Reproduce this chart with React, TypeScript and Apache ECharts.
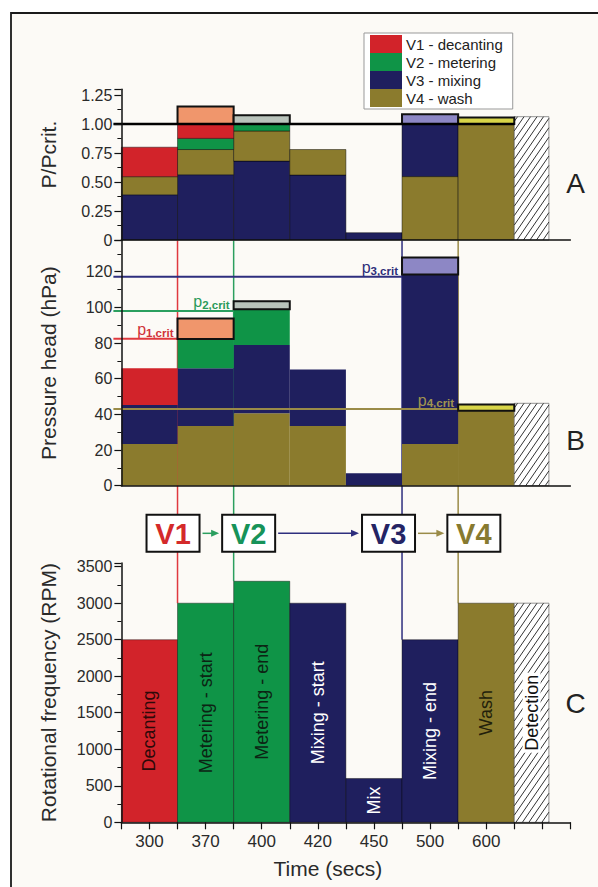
import React, { useEffect, useRef } from 'react';
import * as echarts from 'echarts';

// ---------------- data ----------------
const categories = ['300', '370', '400', '420', '450', '500', '600'];
const legendNames = ['V1 - decanting', 'V2 - metering', 'V3 - mixing', 'V4 - wash'];
const valveLabels = ['V1', 'V2', 'V3', 'V4'];

// Panel A: P/Pcrit, stacked segments [low, high] per time step
const ratioV1 = [[0.546, 0.8], [0.876, 1.0], null, null, null, null, null];
const ratioV2 = [null, [0.78, 0.876], [0.94, 1.0], null, null, null, null];
const ratioV3 = [[0, 0.39], [0, 0.563], [0, 0.68], [0, 0.56], [0, 0.063], [0.546, 1.0], null];
const ratioV4 = [[0.39, 0.546], [0.563, 0.78], [0.68, 0.94], [0.56, 0.78], null, [0, 0.546], [0, 1.0]];
const ratioExcess = [null, [1.0, 1.15], [1.0, 1.075], null, null, [1.0, 1.085], [1.0, 1.055]];
const ratioDetection = 1.063;
const ratioCrit = 1.0;

// Panel B: pressure head (hPa)
const headV1 = [[45.2, 65.8], null, null, null, null, null, null];
const headV2 = [null, [65.8, 82.2], [78.9, 98.9], null, null, null, null];
const headV3 = [[23.4, 45.2], [33.5, 65.8], [40.6, 78.9], [33.5, 65.2], [0, 7], [23.4, 118.5], null];
const headV4 = [[0, 23.4], [0, 33.5], [0, 40.6], [0, 33.5], null, [0, 23.4], [0, 42]];
const headExcess = [null, [82.2, 93.8], [98.9, 103.5], null, null, [118.5, 128], [42, 45.6]];
const headDetection = 46.2;
const critHead = [82.4, 98.0, 117.2, 43.0];

// which valve the excess box of each time step belongs to
const excessValve = [null, 0, 1, null, null, 2, 3];

// Panel C: rotational frequency (RPM)
const rpm = [2500, 3000, 3300, 3000, 600, 2500, 3000];
const rpmDetection = 3000;
const phaseLabels = ['Decanting', 'Metering - start', 'Metering - end', 'Mixing - start', 'Mix', 'Mixing - end', 'Wash'];
const phaseValve = [0, 1, 1, 2, 2, 2, 3];
const detectionLabel = 'Detection';

// time-step boundary at which each valve bursts
const valveBurstStep = [1, 2, 5, 6];

// ---------------- styles / layout ----------------
const FONT = 'Liberation Sans, Arial, Helvetica, sans-serif';
const valveColors = ['#d2232a', '#0f9447', '#1f1f5e', '#8b7b2d'];
const excessColors = ['#f0966c', '#b9c3bb', '#8d87c5', '#d8d548'];
const lineColors = ['#e0393e', '#2b9f5f', '#2e2e7e', '#9a8b48'];
const valveTextColors = ['#d42a2a', '#17935a', '#252565', '#877a30'];
const critLabelColors = ['#d0343a', '#2a9a5a', '#2e2e7a', '#a09450'];
const phaseTextColors = ['#2e0909', '#0c2414', '#ffffff', '#221f0b'];
const DET_W = 0.617; // detection bar width in time steps
const BOX_Y = 0.384; // valve boxes vertical position in the middle strip
const boxOffsetPx = [-4.5, 15, -13.5, 15.7];
const BOX_W = 53;
const BOX_H = 37;

const GL = 121.4;
const GR = 27.6;

function rectOf(api: any, x0: number, x1: number, lo: number, hi: number) {
  const a = api.coord([x0, lo]);
  const b = api.coord([x1, hi]);
  return { x: a[0], y: b[1], width: b[0] - a[0], height: a[1] - b[1] };
}

function hatchLines(r: any, step: number, slope: number, color: string) {
  const out: any[] = [];
  const { x, y, width: w, height: h } = r;
  const cMin = y + slope * x;
  const cMax = y + h + slope * (x + w);
  for (let c = cMin + slope * step * 0.5; c < cMax; c += slope * step) {
    const xa = Math.max(x, (c - (y + h)) / slope);
    const xb = Math.min(x + w, (c - y) / slope);
    if (xb <= xa) continue;
    out.push({
      type: 'line',
      shape: { x1: xa, y1: c - slope * xa, x2: xb, y2: c - slope * xb },
      style: { stroke: color, lineWidth: 1 },
    });
  }
  return out;
}

function toItems(ranges: any[]) {
  const out: any[] = [];
  ranges.forEach((r, i) => {
    if (r) out.push([i, i + 1, r[0], r[1]]);
  });
  return out;
}

function segSeries(name: string, ranges: any[], gi: number, color: string, stroke: string | null) {
  return {
    type: 'custom',
    name,
    xAxisIndex: gi,
    yAxisIndex: gi,
    silent: true,
    z: 3,
    itemStyle: { color },
    encode: { x: [0, 1], y: [2, 3] },
    data: toItems(ranges),
    renderItem: (_p: any, api: any) => ({
      type: 'rect',
      shape: rectOf(api, api.value(0), api.value(1), api.value(2), api.value(3)),
      style: { fill: color, stroke: stroke || undefined, lineWidth: stroke ? 1 : 0 },
    }),
  };
}

function excessSeries(ranges: any[], gi: number) {
  const data: any[] = [];
  ranges.forEach((r, i) => {
    if (r) data.push([i, i + 1, r[0], r[1], excessValve[i]]);
  });
  return {
    type: 'custom',
    xAxisIndex: gi,
    yAxisIndex: gi,
    silent: true,
    z: 6,
    encode: { x: [0, 1], y: [2, 3] },
    data,
    renderItem: (_p: any, api: any) => ({
      type: 'rect',
      shape: rectOf(api, api.value(0), api.value(1), api.value(2), api.value(3)),
      style: { fill: excessColors[api.value(4)], stroke: '#111', lineWidth: 2 },
    }),
  };
}

function detectionSeries(value: number, gi: number, label: string | null) {
  const start = categories.length;
  return {
    type: 'custom',
    xAxisIndex: gi,
    yAxisIndex: gi,
    silent: true,
    z: 3,
    encode: { x: [0, 1], y: [2, 3] },
    data: [[start, start + DET_W, 0, value]],
    renderItem: (_p: any, api: any) => {
      const r = rectOf(api, api.value(0), api.value(1), api.value(2), api.value(3));
      const children: any[] = [
        { type: 'rect', shape: r, style: { fill: '#ffffff', stroke: '#777', lineWidth: 0.8 } },
        ...hatchLines(r, 6.5, 1.45, '#333'),
      ];
      if (label) {
        children.push({
          type: 'text',
          x: r.x + r.width / 2,
          y: r.y + r.height / 2,
          rotation: Math.PI / 2,
          style: {
            text: label,
            fill: '#111',
            fontSize: 18,
            fontFamily: FONT,
            align: 'center',
            verticalAlign: 'middle',
            backgroundColor: '#ffffff',
            padding: [0, 2, 0, 2],
          },
        });
      }
      return { type: 'group', children };
    },
  };
}

function buildOption() {
  const axisLineStyle = { color: '#111', width: 1.5 };
  const yCommon = {
    axisLine: { show: true, lineStyle: axisLineStyle },
    axisTick: { show: true, length: 7, lineStyle: { color: '#111', width: 1.2 } },
    minorTick: { show: true, splitNumber: 2, length: 4, lineStyle: { color: '#111', width: 1 } },
    splitLine: { show: false },
    nameLocation: 'middle',
    nameGap: 62,
    z: 8,
  };
  const yLabel = {
    fontSize: 16,
    color: '#2a2a2a',
    margin: 9,
    fontFamily: FONT,
    showMaxLabel: false,
    formatter: (v: number) => String(v),
  };

  const series: any[] = [];

  // ----- Panel A -----
  const aStroke = 'rgba(0,0,0,0.45)';
  series.push(segSeries(legendNames[2], ratioV3, 0, valveColors[2], aStroke));
  series.push(segSeries(legendNames[3], ratioV4, 0, valveColors[3], aStroke));
  series.push(segSeries(legendNames[1], ratioV2, 0, valveColors[1], aStroke));
  series.push(segSeries(legendNames[0], ratioV1, 0, valveColors[0], aStroke));
  series.push(excessSeries(ratioExcess, 0));
  series.push(detectionSeries(ratioDetection, 0, null));
  series.push({
    type: 'custom',
    xAxisIndex: 0,
    yAxisIndex: 0,
    silent: true,
    z: 7,
    encode: { x: [0, 1], y: 2 },
    data: [[0, categories.length, ratioCrit]],
    renderItem: (_p: any, api: any) => {
      const a = api.coord([api.value(0), api.value(2)]);
      const b = api.coord([api.value(1), api.value(2)]);
      return {
        type: 'line',
        shape: { x1: a[0] - 8, y1: a[1], x2: b[0], y2: b[1] },
        style: { stroke: '#000', lineWidth: 2.5 },
      };
    },
  });

  // ----- Panel B -----
  // vertical valve lines (behind bars)
  series.push({
    type: 'custom',
    xAxisIndex: 1,
    yAxisIndex: 1,
    silent: true,
    z: 1,
    encode: { x: 0 },
    data: valveBurstStep.map((s, k) => [s, k]),
    renderItem: (_p: any, api: any) => {
      const k = api.value(1);
      const top = api.coord([api.value(0), 137.5]);
      const bot = api.coord([api.value(0), 0]);
      return {
        type: 'line',
        shape: { x1: top[0], y1: top[1], x2: bot[0], y2: bot[1] },
        style: { stroke: lineColors[k], lineWidth: 1.5 },
      };
    },
  });
  series.push(segSeries(legendNames[3], headV4, 1, valveColors[3], null));
  series.push(segSeries(legendNames[2], headV3, 1, valveColors[2], null));
  series.push(segSeries(legendNames[1], headV2, 1, valveColors[1], null));
  series.push(segSeries(legendNames[0], headV1, 1, valveColors[0], null));
  series.push(detectionSeries(headDetection, 1, null));
  // critical pressure lines + labels
  series.push({
    type: 'custom',
    xAxisIndex: 1,
    yAxisIndex: 1,
    silent: true,
    z: 5,
    encode: { x: 0, y: 1 },
    data: critHead.map((v, k) => [valveBurstStep[k], v, k]),
    renderItem: (_p: any, api: any) => {
      const k = api.value(2);
      const a = api.coord([0, api.value(1)]);
      const b = api.coord([api.value(0), api.value(1)]);
      const c = critLabelColors[k];
      return {
        type: 'group',
        children: [
          {
            type: 'line',
            shape: { x1: a[0] - 8, y1: a[1], x2: b[0], y2: b[1] },
            style: { stroke: lineColors[k], lineWidth: 2 },
          },
          {
            type: 'text',
            x: b[0] - 4,
            y: b[1] - 2,
            style: {
              text: `{p|p}{s|${k + 1},crit}`,
              align: 'right',
              verticalAlign: 'bottom',
              fontFamily: FONT,
              rich: {
                p: { fontSize: 16, fill: c, fontFamily: FONT, lineHeight: 15, verticalAlign: 'top' },
                s: { fontSize: 11.5, fontWeight: 'bold', fill: c, fontFamily: FONT, lineHeight: 11, padding: [5, 0, 0, 0], verticalAlign: 'top' },
              },
            },
          },
        ],
      };
    },
  });
  series.push(excessSeries(headExcess, 1));

  // ----- middle strip: valve boxes -----
  series.push({
    type: 'custom',
    xAxisIndex: 2,
    yAxisIndex: 2,
    silent: true,
    z: 3,
    encode: { x: 0 },
    data: valveBurstStep.map((s, k) => [s, k]),
    renderItem: (_p: any, api: any) => {
      const k = api.value(1);
      const top = api.coord([api.value(0), 1]);
      const bot = api.coord([api.value(0), 0]);
      const mid = api.coord([api.value(0), BOX_Y]);
      const cx = mid[0] + boxOffsetPx[k];
      const children: any[] = [
        {
          type: 'line',
          shape: { x1: top[0], y1: top[1], x2: bot[0], y2: bot[1] },
          style: { stroke: lineColors[k], lineWidth: 1.5 },
          z2: 0,
        },
        {
          type: 'rect',
          shape: { x: cx - BOX_W / 2, y: mid[1] - BOX_H / 2, width: BOX_W, height: BOX_H },
          style: { fill: '#ffffff', stroke: '#111', lineWidth: 2 },
          z2: 2,
        },
        {
          type: 'text',
          x: cx,
          y: mid[1] + 1,
          style: {
            text: valveLabels[k],
            fill: valveTextColors[k],
            fontSize: 29,
            fontWeight: 'bold',
            fontFamily: FONT,
            align: 'center',
            verticalAlign: 'middle',
          },
          z2: 3,
        },
      ];
      if (k > 0) {
        const prev = api.coord([valveBurstStep[k - 1], BOX_Y]);
        const px = prev[0] + boxOffsetPx[k - 1] + BOX_W / 2 + 3;
        const qx = cx - BOX_W / 2 - 3;
        const y = mid[1];
        const col = lineColors[k];
        children.push({
          type: 'line',
          shape: { x1: px, y1: y, x2: qx - 6, y2: y },
          style: { stroke: col, lineWidth: 1.5 },
          z2: 2,
        });
        children.push({
          type: 'polygon',
          shape: { points: [[qx, y], [qx - 8, y - 3.5], [qx - 8, y + 3.5]] },
          style: { fill: col },
          z2: 2,
        });
      }
      return { type: 'group', children };
    },
  });

  // ----- Panel C -----
  series.push({
    type: 'custom',
    xAxisIndex: 3,
    yAxisIndex: 3,
    silent: true,
    z: 2,
    encode: { x: 0, y: 1 },
    data: valveBurstStep.map((s, k) => [s, rpm[s], k]),
    renderItem: (_p: any, api: any) => {
      const k = api.value(2);
      const top = api.coord([api.value(0), 3550]);
      const bot = api.coord([api.value(0), api.value(1)]);
      return {
        type: 'line',
        shape: { x1: top[0], y1: top[1], x2: bot[0], y2: bot[1] },
        style: { stroke: lineColors[k], lineWidth: 1.5 },
      };
    },
  });
  series.push({
    type: 'custom',
    xAxisIndex: 3,
    yAxisIndex: 3,
    silent: true,
    z: 3,
    encode: { x: [0, 1], y: [2, 3] },
    data: rpm.map((v, i) => [i, i + 1, 0, v, phaseValve[i], i]),
    renderItem: (_p: any, api: any) => {
      const r = rectOf(api, api.value(0), api.value(1), api.value(2), api.value(3));
      const v = api.value(4);
      const i = api.value(5);
      return {
        type: 'group',
        children: [
          { type: 'rect', shape: r, style: { fill: valveColors[v], stroke: 'rgba(0,0,0,0.4)', lineWidth: 1 } },
          {
            type: 'text',
            x: r.x + r.width / 2,
            y: r.y + r.height / 2,
            rotation: Math.PI / 2,
            style: {
              text: phaseLabels[i],
              fill: phaseTextColors[v],
              fontSize: 18,
              fontFamily: FONT,
              align: 'center',
              verticalAlign: 'middle',
            },
          },
        ],
      };
    },
  });
  series.push(detectionSeries(rpmDetection, 3, detectionLabel));

  return {
    animation: false,
    backgroundColor: '#ffffff',
    textStyle: { fontFamily: FONT },
    legend: {
      data: legendNames,
      orient: 'vertical',
      left: 364,
      top: 33,
      itemWidth: 32,
      itemHeight: 18,
      itemGap: 0,
      itemStyle: { borderWidth: 0 },
      icon: 'rect',
      selectedMode: false,
      padding: [2, 10, 2, 6],
      borderColor: '#999',
      borderWidth: 1,
      backgroundColor: '#ffffff',
      textStyle: { fontSize: 15, color: '#222', fontFamily: FONT, padding: [0, 0, 0, -1] },
    },
    graphic: [
      {
        type: 'rect',
        z: -100,
        silent: true,
        shape: { x: 11, y: 13, width: 620, height: 900 },
        style: { fill: '#fcfaf6', stroke: '#1a1a1a', lineWidth: 1.8 },
      },
      { type: 'text', x: 575.7, y: 183, style: { text: 'A', fontSize: 28, fill: '#222', fontFamily: FONT, align: 'center', verticalAlign: 'middle' } },
      { type: 'text', x: 575.7, y: 440, style: { text: 'B', fontSize: 28, fill: '#222', fontFamily: FONT, align: 'center', verticalAlign: 'middle' } },
      { type: 'text', x: 575.7, y: 703, style: { text: 'C', fontSize: 28, fill: '#222', fontFamily: FONT, align: 'center', verticalAlign: 'middle' } },
    ],
    grid: [
      { left: GL, right: GR, top: 89.2, height: 150.8 },
      { left: GL, right: GR, top: 240.5, height: 245.2 },
      { left: GL, right: GR, top: 485.7, height: 77.3 },
      { left: GL, right: GR, top: 563, height: 259.3 },
    ],
    xAxis: [
      { type: 'value', gridIndex: 0, min: 0, max: 8, z: 8, axisLine: { lineStyle: axisLineStyle }, axisTick: { show: false }, axisLabel: { show: false }, splitLine: { show: false } },
      { type: 'value', gridIndex: 1, min: 0, max: 8, z: 8, axisLine: { lineStyle: axisLineStyle }, axisTick: { show: false }, axisLabel: { show: false }, splitLine: { show: false } },
      { type: 'value', gridIndex: 2, min: 0, max: 8, show: false },
      {
        type: 'value',
        gridIndex: 3,
        min: 0,
        max: 8,
        interval: 0.5,
        z: 8,
        axisLine: { lineStyle: axisLineStyle },
        axisTick: { show: true, length: 7, lineStyle: { color: '#111', width: 1.2 } },
        splitLine: { show: false },
        axisLabel: {
          fontSize: 17,
          color: '#2a2a2a',
          margin: 11,
          fontFamily: FONT,
          formatter: (v: number) => {
            const i = Math.floor(v);
            if (Math.abs(v - i - 0.5) < 1e-6 && i < categories.length) return categories[i];
            return '';
          },
        },
        name: 'Time (secs)',
        nameLocation: 'middle',
        nameGap: 36,
        nameTextStyle: { fontSize: 21, color: '#2a2a2a', fontFamily: FONT, padding: [0, 36, 0, 0] },
      },
    ],
    yAxis: [
      {
        ...yCommon,
        type: 'value',
        gridIndex: 0,
        min: 0,
        max: 1.3,
        interval: 0.25,
        name: 'P/Pcrit.',
        nameTextStyle: { fontSize: 21, color: '#2a2a2a', fontFamily: FONT, padding: [0, 0, 0, 20] },
        axisLabel: { ...yLabel, formatter: (v: number) => (v === 0 ? '0' : v.toFixed(2)) },
      },
      {
        ...yCommon,
        type: 'value',
        gridIndex: 1,
        min: 0,
        max: 137.5,
        interval: 20,
        name: 'Pressure head (hPa)',
        nameTextStyle: { fontSize: 21, color: '#2a2a2a', fontFamily: FONT },
        axisLabel: yLabel,
      },
      { type: 'value', gridIndex: 2, min: 0, max: 1, show: false },
      {
        ...yCommon,
        type: 'value',
        gridIndex: 3,
        min: 0,
        max: 3550,
        interval: 500,
        name: 'Rotational frequency (RPM)',
        nameTextStyle: { fontSize: 21, color: '#2a2a2a', fontFamily: FONT },
        axisLabel: yLabel,
      },
    ],
    series,
  };
}

export default function App() {
  const ref = useRef<HTMLDivElement>(null);
  useEffect(() => {
    if (!ref.current) return;
    const chart = echarts.init(ref.current, null, { renderer: 'svg' });
    chart.setOption(buildOption() as any);
    return () => chart.dispose();
  }, []);
  return <div ref={ref} style={{ position: 'absolute', left: 0, top: 0, width: 598, height: 887 }} />;
}
